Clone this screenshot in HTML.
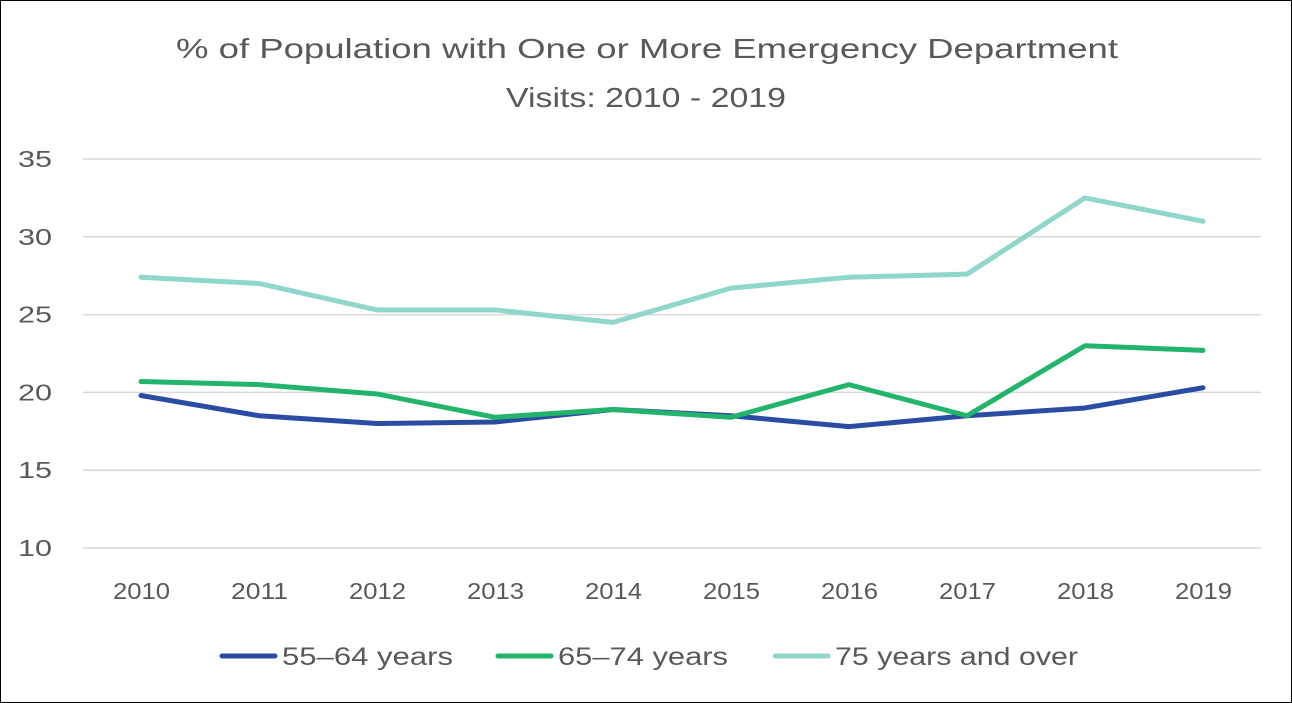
<!DOCTYPE html>
<html><head><meta charset="utf-8"><style>
html,body{margin:0;padding:0;background:#fff;}
body{width:1292px;height:703px;overflow:hidden;font-family:"Liberation Sans",sans-serif;}
#frame{position:absolute;left:0;top:0;width:1290px;height:701px;border:1px solid #000;}
</style></head><body>
<div id="frame"></div>
<svg id="chart" width="1292" height="703" style="position:absolute;left:0;top:0"></svg>
<script>
const years=["2010","2011","2012","2013","2014","2015","2016","2017","2018","2019"];
const s5564=[19.8,18.5,18.0,18.1,18.9,18.5,17.8,18.5,19.0,20.3];
const s6574=[20.7,20.5,19.9,18.4,18.9,18.4,20.5,18.5,23.0,22.7];
const s75=[27.4,27.0,25.3,25.3,24.5,26.7,27.4,27.6,32.5,31.0];
const yTicks=[10,15,20,25,30,35];
const seriesNames=["55–64 years","65–74 years","75 years and over"];
const colors=["#2a4da3","#22b46a","#8fd6cb"];
const NS="http://www.w3.org/2000/svg";
const svg=document.getElementById('chart');
const x=i=>141+i*(1203-141)/(years.length-1);
const y=v=>548-(v-10)*(548-159)/25;
function mk(tag,attrs,parent){const e=document.createElementNS(NS,tag);for(const k in attrs)e.setAttribute(k,attrs[k]);(parent||svg).appendChild(e);return e;}
let t=mk('text',{x:176,y:58,'font-size':28,fill:'#595959',textLength:942,lengthAdjust:'spacingAndGlyphs'});t.textContent="% of Population with One or More Emergency Department";


t=mk('text',{x:506,y:107,'font-size':28,fill:'#595959',textLength:280,lengthAdjust:'spacingAndGlyphs'});t.textContent="Visits: 2010 - 2019";


yTicks.forEach(v=>{
 const l=mk('line',{x1:83,x2:1261,y1:y(v),y2:y(v),stroke:'#d9d9d9','stroke-width':1.5});
 
 
 const tx=mk('text',{x:52,y:y(v)+8,'text-anchor':'end','font-size':23,fill:'#595959',textLength:34,lengthAdjust:'spacingAndGlyphs'});tx.textContent=v;
 
 
});
years.forEach((yr,i)=>{
 const tx=mk('text',{x:x(i)-28,y:599,'font-size':23,fill:'#595959',textLength:57,lengthAdjust:'spacingAndGlyphs'});tx.textContent=yr;
 
 
});
[s5564,s6574,s75].forEach((s,k)=>{
 const p=mk('polyline',{points:s.map((v,i)=>x(i)+','+y(v)).join(' '),fill:'none',stroke:colors[k],'stroke-width':5,'stroke-linejoin':'round','stroke-linecap':'round'});
 
 
});
const lx=[222,498,775];
const lw=[171,170,243];
seriesNames.forEach((n,k)=>{
 const g=mk('g',{});
 
 
 mk('line',{x1:lx[k],x2:lx[k]+53,y1:656,y2:656,stroke:colors[k],'stroke-width':5,'stroke-linecap':'round'},g);
 const tx=mk('text',{x:lx[k]+60,y:665,'font-size':25,fill:'#595959',textLength:lw[k],lengthAdjust:'spacingAndGlyphs'},g);tx.textContent=n;
});
</script>
</body></html>
